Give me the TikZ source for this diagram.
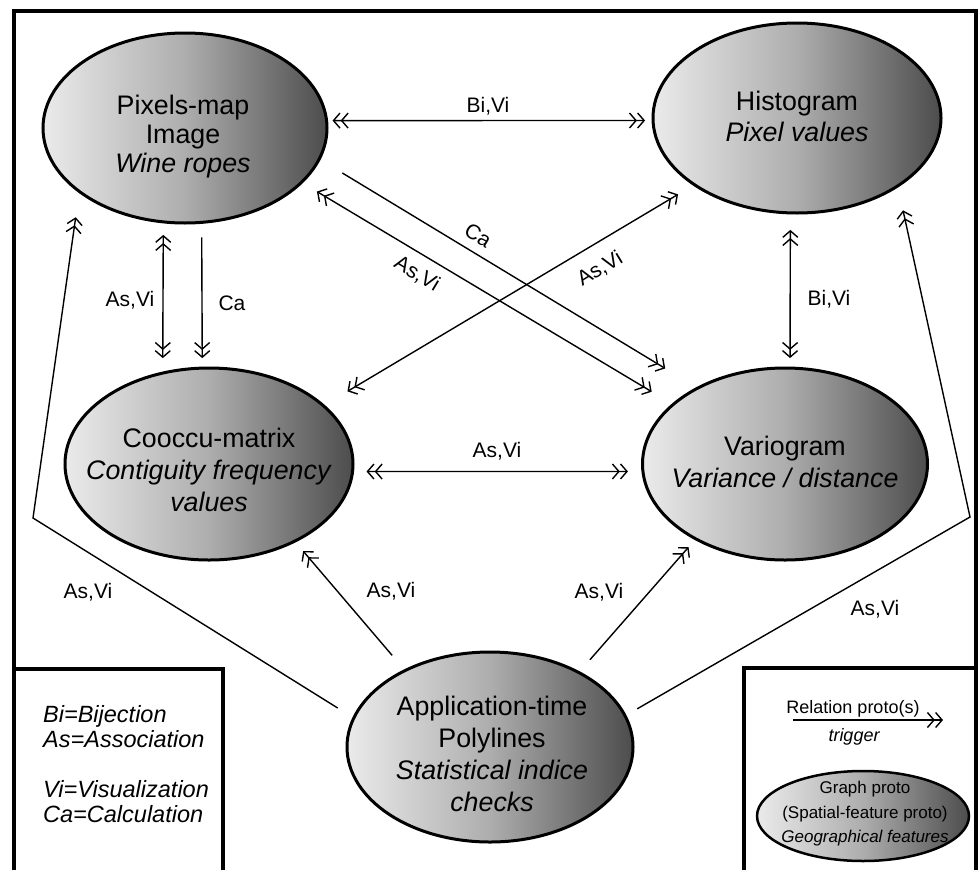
\documentclass[tikz,border=0pt]{standalone}
\usepackage{fontspec}
\setmainfont{Liberation Sans}
\usetikzlibrary{arrows.meta,shapes.geometric}
\definecolor{shadeL}{gray}{0.92}
\definecolor{shadeM}{gray}{0.68}
\definecolor{shadeR}{gray}{0.30}
\begin{document}
\begin{tikzpicture}[x=1pt,y=-1pt,
  >={Straight Barb[length=6.5pt,width=15pt]},
  feat/.style={ellipse, draw=black, line width=3pt, left color=shadeL,
    right color=shadeR, middle color=shadeM, inner sep=0pt, outer sep=0pt},
  ftext/.style={align=center, inner sep=0pt, font=\fontsize{26.8}{#1}\selectfont},
  lbl/.style={inner sep=0pt, font=\fontsize{21}{25}\selectfont},
  link/.style={line width=1.4pt},
  rel/.style={link, ->>},
  relboth/.style={link, <<->>},
  frame/.style={line width=4.5pt, line cap=butt, line join=miter}]
\useasboundingbox (0,0) rectangle (979,870);

% outer frame and the two legend boxes
\draw[frame] (14,870) -- (14,11) -- (976,11) -- (976,870);
\draw[frame] (14,669) -- (223,669) -- (223,870);
\draw[frame] (976,668) -- (744,668) -- (744,870);

% feature ellipses
\node[feat, minimum width=284pt, minimum height=190pt] (pix) at (185,128) {};
\node[feat, minimum width=288pt, minimum height=190pt] (hist) at (797,118) {};
\node[feat, minimum width=288pt, minimum height=192pt] (cooc) at (209,464) {};
\node[feat, minimum width=285pt, minimum height=192pt] (vario) at (785,464) {};
\node[feat, minimum width=286pt, minimum height=190pt] (app) at (490,747) {};
\node[feat, line width=2.5pt, minimum width=212pt, minimum height=90pt] (proto) at (863,816) {};

\node[ftext=29] (pix-t) at (183,137) {Pixels-map\\Image\\\textit{Wine ropes}};
\node[ftext=31] (hist-t) at (797,116) {Histogram\\\textit{Pixel values}};
\node[ftext=32] (cooc-t) at (209,470) {Cooccu-matrix\\\textit{Contiguity frequency}\\\textit{values}};
\node[ftext=32] (vario-t) at (785,462) {Variogram\\\textit{Variance / distance}};
\node[ftext=32] (app-t) at (492,754) {Application-time\\Polylines\\\textit{Statistical indice}\\\textit{checks}};
\node[inner sep=0pt, align=center, font=\fontsize{17}{24.5}\selectfont] (proto-t) at (865,814)
  {Graph proto\\(Spatial-feature proto)\\\textit{Geographical features}};

% relations between the features
\draw[relboth, shorten <=6pt, shorten >=8pt] (pix.3) -- (hist.181);
\draw[relboth, shorten <=18pt, shorten >=25pt] (pix.-25) -- (vario.152);
\draw[rel, shorten <=27pt, shorten >=38pt] (pix.-13) -- (vario.139);
\draw[relboth, shorten <=28pt, shorten >=19pt] (cooc.27) -- (hist.-147);
\draw[relboth, shorten <=13pt, shorten >=15pt] (pix.-103) -- (cooc.117);
\draw[rel, shorten <=15pt, shorten >=10pt] (pix.-80) -- (cooc.94);
\draw[relboth, shorten <=17pt, shorten >=10pt] (hist.-94) -- (vario.87);
\draw[relboth, shorten <=14pt, shorten >=15pt] (cooc.-3) -- (vario.183);
\draw[rel, shorten <=20pt, shorten >=13pt] (app.138) -- (cooc.-42);
\draw[rel, shorten <=17pt, shorten >=11pt] (app.40) -- (vario.-140);
\coordinate (bendL) at (33,518);
\coordinate (bendR) at (970,517);
\draw[rel, shorten <=19pt, shorten >=26pt] (app.168) -- (bendL) -- (pix.211);
\draw[rel, shorten <=14pt, shorten >=25pt] (app.13) -- (bendR) -- (hist.-34);

% relation labels
\node[lbl] (l1) at (488,106) {Bi,Vi};
\node[lbl, rotate=-31] (l2) at (417,274) {As,Vi};
\node[lbl, rotate=-31] (l3) at (478,235) {Ca};
\node[lbl, rotate=31] (l4) at (600,269) {As,Vi};
\node[lbl] (l5) at (130,300) {As,Vi};
\node[lbl] (l6) at (232,303) {Ca};
\node[lbl] (l7) at (829,299) {Bi,Vi};
\node[lbl] (l8) at (497,451) {As,Vi};
\node[lbl] (l9) at (391,591) {As,Vi};
\node[lbl] (l10) at (599,592) {As,Vi};
\node[lbl] (l11) at (88,592) {As,Vi};
\node[lbl] (l12) at (875,609) {As,Vi};

% abbreviations
\node[inner sep=0pt, anchor=north west, align=left,
  font=\fontsize{23.5}{25}\selectfont\itshape] (abbr) at (43,705)
  {Bi=Bijection\\As=Association\\[25pt]Vi=Visualization\\Ca=Calculation};

% notation key
\coordinate (relA) at (793,720);
\coordinate (relB) at (943,720);
\draw[rel] (relA) -- (relB);
\node[inner sep=0pt, font=\fontsize{18}{22}\selectfont] (relname) at (853,709) {Relation proto(s)};
\node[inner sep=0pt, font=\fontsize{18}{22}\selectfont\itshape] (reltrig) at (854,737) {trigger};
\end{tikzpicture}
\end{document}
